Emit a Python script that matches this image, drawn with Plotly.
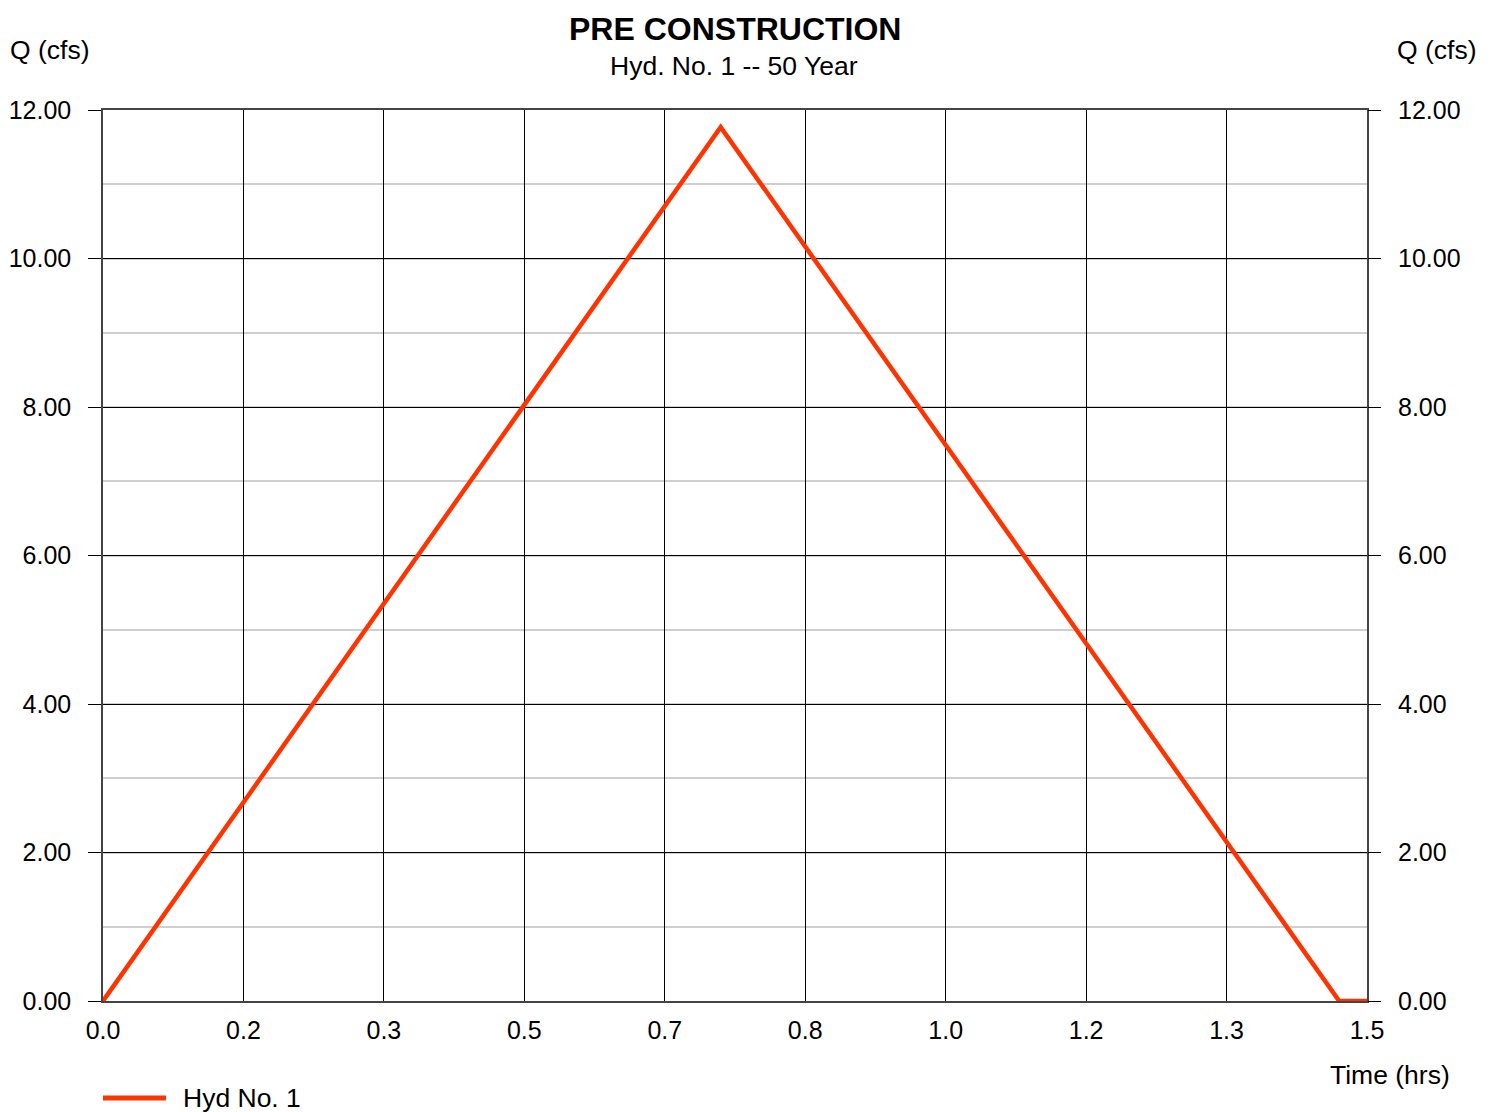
import plotly.graph_objects as go

# Data
time_hrs = [0.0, 0.733, 1.467, 1.5]
q_cfs = [0.0, 11.77, 0.0, 0.0]
x_tickvals = [0, 1/6, 2/6, 3/6, 4/6, 5/6, 1.0, 7/6, 8/6, 1.5]
x_ticktext = ["0.0", "0.2", "0.3", "0.5", "0.7", "0.8", "1.0", "1.2", "1.3", "1.5"]
y_tickvals = [0, 2, 4, 6, 8, 10, 12]
y_ticktext = ["0.00", "2.00", "4.00", "6.00", "8.00", "10.00", "12.00"]

OFF = 8  # page body margin
W, H = 1496 - OFF, 1112 - OFF
X0, X1, Y0, Y1 = 103, 1367, 110, 1001  # plot area in page pixels
L, T = X0 - OFF, Y0 - OFF
R = W - (X1 - OFF)
B = H - (Y1 - OFF)
PW, PH = X1 - X0, Y1 - Y0

def px(x):
    return (x - X0) / PW

def py(y):
    return (Y1 - y) / PH

FONT = "Liberation Sans, Arial, sans-serif"
RED = "#FF3300"

fig = go.Figure()
fig.add_trace(go.Scatter(x=time_hrs, y=q_cfs, mode="lines",
                         line=dict(color=RED, width=4.5), name="Hyd No. 1",
                         showlegend=False))
fig.add_trace(go.Scatter(x=time_hrs, y=q_cfs, mode="lines", yaxis="y2",
                         line=dict(color=RED, width=0), opacity=0,
                         showlegend=False, hoverinfo="skip"))

fig.update_layout(
    width=W, height=H,
    margin=dict(l=L, r=R, t=T, b=B, autoexpand=False),
    paper_bgcolor="white", plot_bgcolor="white",
    font=dict(family=FONT, size=25, color="black"),
    xaxis=dict(range=[0, 1.5], tickvals=x_tickvals, ticktext=x_ticktext,
               showgrid=True, gridcolor="black", gridwidth=1,
               zeroline=False, showline=True, linecolor="#444", linewidth=1.5,
               mirror=True, ticks="", tickfont=dict(size=25),
               ticklabelstandoff=6, automargin=False),
    yaxis=dict(range=[0, 12], tickvals=y_tickvals, ticktext=y_ticktext,
               showgrid=True, gridcolor="black", gridwidth=1,
               minor=dict(dtick=1, tick0=0, showgrid=True, gridcolor="#cfcfcf",
                          gridwidth=2, ticks=""),
               zeroline=False, showline=True, linecolor="#444", linewidth=1.5,
               mirror=True, ticks="outside", ticklen=13, tickcolor="black",
               tickfont=dict(size=25), ticklabelstandoff=12, automargin=False),
    yaxis2=dict(range=[0, 12], tickvals=y_tickvals, ticktext=y_ticktext,
                overlaying="y", side="right", showgrid=False, zeroline=False,
                showline=False, ticks="outside", ticklen=13, tickcolor="black",
                tickfont=dict(size=25), ticklabelstandoff=12, automargin=False),
)

ann = [
    dict(text="<b>PRE CONSTRUCTION</b>", x=px(735), y=py(8.5), yanchor="top",
         font=dict(size=32)),
    dict(text="Hyd. No. 1 -- 50 Year", x=px(734), y=py(66), font=dict(size=26.5)),
    dict(text="Q (cfs)", x=px(50), y=py(50), font=dict(size=26.5)),
    dict(text="Q (cfs)", x=px(1437), y=py(50), font=dict(size=26.5)),
    dict(text="Time (hrs)", x=px(1452), y=py(1075), xanchor="right", font=dict(size=26.5)),
    dict(text="Hyd No. 1", x=px(181), y=py(1098), xanchor="left", font=dict(size=26.5)),
]
for a in ann:
    a.setdefault("xanchor", "center")
    a.setdefault("yanchor", "middle")
    fig.add_annotation(xref="paper", yref="paper", showarrow=False, **a)

fig.add_shape(type="line", xref="paper", yref="paper",
              x0=px(103), x1=px(166), y0=py(1098), y1=py(1098),
              line=dict(color=RED, width=5))

fig.write_html("out.html")
